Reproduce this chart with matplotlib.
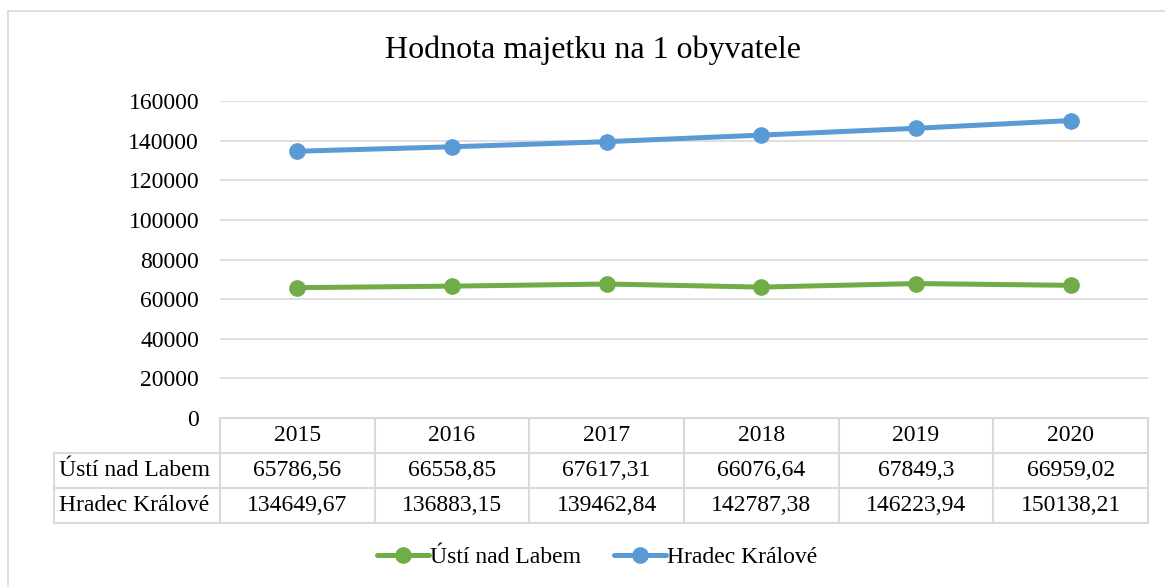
import matplotlib.pyplot as plt
from matplotlib.patches import Rectangle
import numpy as np

plt.rcParams['font.family'] = ['Liberation Serif', 'DejaVu Serif']

years = ['2015', '2016', '2017', '2018', '2019', '2020']
usti = [65786.56, 66558.85, 67617.31, 66076.64, 67849.3, 66959.02]
hradec = [134649.67, 136883.15, 139462.84, 142787.38, 146223.94, 150138.21]
series_names = ['Ústí nad Labem', 'Hradec Králové']
usti_labels = ['65786,56', '66558,85', '67617,31', '66076,64', '67849,3', '66959,02']
hradec_labels = ['134649,67', '136883,15', '139462,84', '142787,38', '146223,94', '150138,21']

green = '#70AD47'
blue = '#5B9BD5'
grid_c = '#D9D9D9'
fs = 17

fig = plt.figure(figsize=(11.65, 5.87), dpi=100)
ax = fig.add_axes([220 / 1165, 1 - 418 / 587, 928 / 1165, 317 / 587])

x = np.arange(len(years))
ax.plot(x, usti, color=green, lw=3.6, marker='o', ms=11, label=series_names[0],
        solid_capstyle='round')
ax.plot(x, hradec, color=blue, lw=3.6, marker='o', ms=11, label=series_names[1],
        solid_capstyle='round')

ax.set_xlim(-0.5, len(years) - 0.5)
ax.set_ylim(0, 160000)
ax.set_yticks(np.arange(0, 160001, 20000))
ax.yaxis.grid(True, color=grid_c, lw=1.2)
ax.set_axisbelow(True)
ax.set_xticks([])
ax.tick_params(axis='y', length=0, pad=15, labelsize=fs)
for s in ax.spines.values():
    s.set_visible(False)

fig.text(593 / 1165, 1 - 50 / 587, 'Hodnota majetku na 1 obyvatele',
         ha='center', va='center', fontsize=23)

# data table under the plot
tr = ax.get_xaxis_transform()
row_edges = [0, -35 / 317, -70 / 317, -105 / 317]
label_left = -0.5 - 166 / (928 / 6)
kw = dict(transform=tr, color=grid_c, lw=1.5, clip_on=False)
ax.plot([-0.5, len(years) - 0.5], [row_edges[0]] * 2, **kw)
for r in row_edges[1:]:
    ax.plot([label_left, len(years) - 0.5], [r, r], **kw)
for i in range(len(years) + 1):
    ax.plot([i - 0.5, i - 0.5], [row_edges[0], row_edges[3]], **kw)
ax.plot([label_left, label_left], [row_edges[1], row_edges[3]], **kw)

def mid(k):
    return (row_edges[k] + row_edges[k + 1]) / 2

for i in range(len(years)):
    ax.text(i, mid(0), years[i], transform=tr, ha='center', va='center', fontsize=fs)
    ax.text(i, mid(1), usti_labels[i], transform=tr, ha='center', va='center', fontsize=fs)
    ax.text(i, mid(2), hradec_labels[i], transform=tr, ha='center', va='center', fontsize=fs)
ax.text(label_left + 0.03, mid(1), series_names[0], transform=tr, ha='left', va='center', fontsize=fs)
ax.text(label_left + 0.03, mid(2), series_names[1], transform=tr, ha='left', va='center', fontsize=fs)

fig.legend(loc='center', bbox_to_anchor=(597 / 1165, 1 - 557 / 587), ncol=2,
           frameon=False, fontsize=fs, handlelength=2.2, handletextpad=0.05,
           columnspacing=1.4)

fig.add_artist(Rectangle((8 / 1165, -0.1), 1.5, 1.1 - 11 / 587,
                         transform=fig.transFigure, fill=False,
                         edgecolor=grid_c, lw=1.2))

fig.savefig('out.png', dpi=100)
